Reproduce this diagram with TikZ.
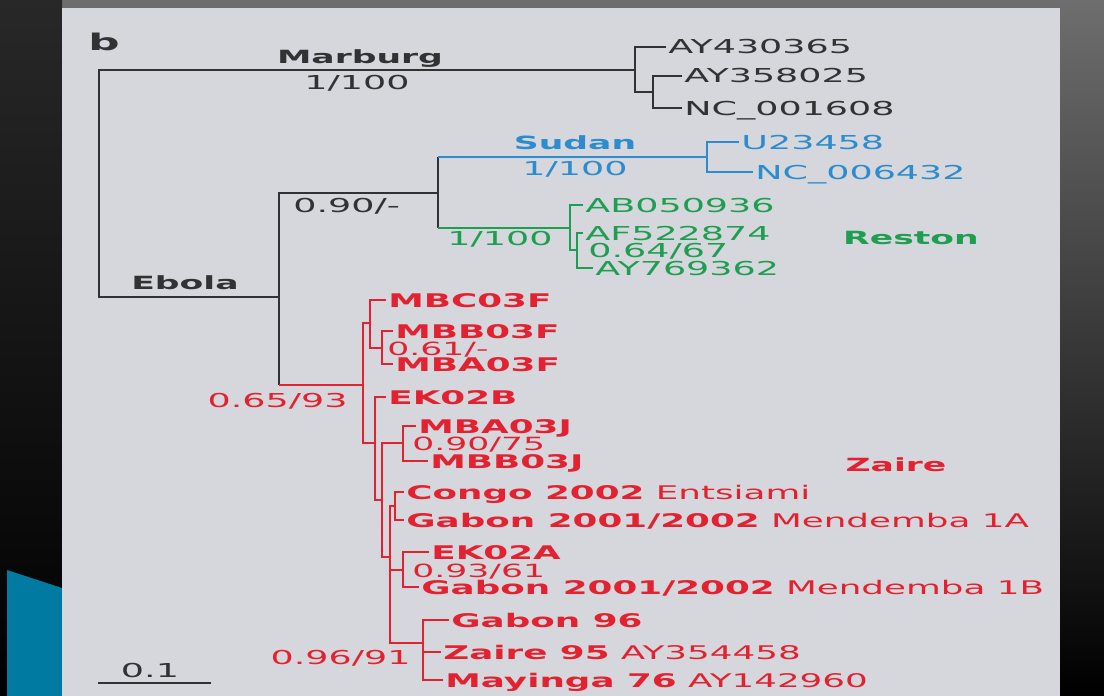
\documentclass[tikz,border=0pt]{standalone}
\usepackage{fontspec}
\usepackage{xcolor}
\newfontfamily\treefont[FakeStretch=1.9]{DejaVu Sans}
\definecolor{panelgrey}{RGB}{214,215,220}
\definecolor{treeblack}{RGB}{50,50,52}
\definecolor{sudanblue}{RGB}{45,140,205}
\definecolor{restongreen}{RGB}{30,158,80}
\definecolor{zairered}{RGB}{226,34,48}
\definecolor{swooshblue}{RGB}{0,122,160}
\usetikzlibrary{positioning, calc}

\begin{document}
\begin{tikzpicture}[
    x=0.5pt, y={(0pt,-0.5pt)},
    leaf/.style={anchor=west, inner xsep=1pt, inner ysep=0pt,
                 text height=7pt, text depth=0pt, text=treeblack,
                 font=\treefont\fontsize{9.6}{11}\selectfont},
    zleaf/.style={leaf, text=zairered, font=\treefont\fontsize{9.4}{11}\selectfont},
    supp/.style={inner sep=0pt, text height=7pt, text depth=0pt,
                 text=treeblack, font=\treefont\fontsize{9.6}{11}\selectfont},
    zsupp/.style={supp, text=zairered, font=\treefont\fontsize{9.1}{10}\selectfont},
    clade/.style={inner sep=0pt, text height=6.6pt, text depth=0pt,
                  text=treeblack, font=\treefont\bfseries\fontsize{9.1}{10}\selectfont},
    blk/.style={draw=treeblack, line width=1.4pt},
    sline/.style={draw=sudanblue, line width=1.4pt},
    rline/.style={draw=restongreen, line width=1.4pt},
    zline/.style={draw=zairered, line width=1.4pt},
  ]
    \useasboundingbox (0,0) rectangle (1104,696);

    % ── Slide background ─────────────────────────
    \shade[top color={rgb,255:red,110;green,110;blue,110}, bottom color=black]
      (0,0) rectangle (1104,696);
    \shade[top color={rgb,255:red,40;green,40;blue,40}, bottom color=black]
      (0,0) rectangle (62,696);
    \fill[swooshblue] (7,570) -- (62,588) -- (62,696) -- (7,696) -- cycle;
    \fill[panelgrey] (62,8) rectangle (1060,696);

    % ── Leaves: Marburg ──────────────────────────
    \node[leaf] (m1) at (666,47) {AY430365};
    \node[leaf] (m2) at (682,76) {AY358025};
    \node[leaf] (m3) at (682,108) {NC\_001608};

    % ── Leaves: Sudan and Reston ─────────────────
    \node[leaf, text=sudanblue] (s1) at (739,142) {U23458};
    \node[leaf, text=sudanblue] (s2) at (753,172) {NC\_006432};
    \node[leaf, text=restongreen] (r1) at (583,205) {AB050936};
    \node[leaf, text=restongreen] (r2) at (583,233) {AF522874};
    \node[leaf, text=restongreen] (r3) at (593,268) {AY769362};

    % ── Leaves: Zaire ────────────────────────────
    \node[zleaf] (z1) at (386,300) {\bfseries MBC03F};
    \node[zleaf] (z2) at (393,331) {\bfseries MBB03F};
    \node[zleaf] (z3) at (393,364) {\bfseries MBA03F};
    \node[zleaf] (z4) at (386,397) {\bfseries EK02B};
    \node[zleaf] (z5) at (416,426) {\bfseries MBA03J};
    \node[zleaf] (z6) at (428,461) {\bfseries MBB03J};
    \node[zleaf] (z7) at (404,492) {{\bfseries Congo 2002} Entsiami};
    \node[zleaf] (z8) at (404,520) {{\bfseries Gabon 2001/2002} Mendemba 1A};
    \node[zleaf] (z9) at (429,552) {\bfseries EK02A};
    \node[zleaf] (z10) at (419,587) {{\bfseries Gabon 2001/2002} Mendemba 1B};
    \node[zleaf] (z11) at (449,620) {\bfseries Gabon 96};
    \node[zleaf] (z12) at (441,652) {{\bfseries Zaire 95} AY354458};
    \node[zleaf] (z13) at (443,680) {{\bfseries Mayinga 76} AY142960};

    % ── Internal nodes ───────────────────────────
    \coordinate (root) at (99,180);
    \coordinate (mar) at (635,70);
    \coordinate (mar2) at (653,92);
    \coordinate (ebo) at (279,297);
    \coordinate (sr) at (438,193);
    \coordinate (sud) at (707,157);
    \coordinate (res) at (570,228);
    \coordinate (res2) at (577,250);
    \coordinate (zai) at (363,385);
    \coordinate (za) at (370,323);
    \coordinate (za2) at (382,348);
    \coordinate (zb) at (375,443);
    \coordinate (zc) at (382,500);
    \coordinate (zj) at (403,443);
    \coordinate (zd) at (390,557);
    \coordinate (zcg) at (395,506);
    \coordinate (zk) at (403,570);
    \coordinate (zg) at (423,643);

    % ── Branches ─────────────────────────────────
    \draw[blk] (mar) -| (root) |- (ebo);
    \draw[blk] (m1.west) -| (mar) |- (mar2);
    \draw[blk] (m2.west) -| (mar2) |- (m3.west);
    \draw[blk] (sr) -| (ebo) -- (ebo |- zai);
    \draw[zline] (ebo |- zai) -- (zai);
    \draw[blk] (sr |- sud) -- (sr |- res);
    \draw[sline] (sr |- sud) -- (sud);
    \draw[rline] (sr |- res) -- (res);
    \draw[sline] (s1.west) -| (sud) |- (s2.west);
    \draw[rline] (r1.west) -| (res) |- (res2);
    \draw[rline] (r2.west) -| (res2) |- (r3.west);

    \draw[zline] (za) -| (zai) |- (zb);
    \draw[zline] (z1.west) -| (za) |- (za2);
    \draw[zline] (z2.west) -| (za2) |- (z3.west);
    \draw[zline] (z4.west) -| (zb) |- (zc);
    \draw[zline] (zj) -| (zc) |- (zd);
    \draw[zline] (z5.west) -| (zj) |- (z6.west);
    \draw[zline] (zcg) -| (zd) |- (zg);
    \draw[zline] (zd |- zk) -- (zk);
    \draw[zline] (z7.west) -| (zcg) |- (z8.west);
    \draw[zline] (z9.west) -| (zk) |- (z10.west);
    \draw[zline] (z11.west) -| (zg) |- (z13.west);
    \draw[zline] (zg |- z12.west) -- (z12.west);

    % ── Clade names and support values ───────────
    \node[clade, text height=8pt, font=\treefont\bfseries\fontsize{11.5}{13}\selectfont] (btag) at (104,42) {b};
    \node[clade] (marlbl) at (360,57) {Marburg};
    \node[supp] (marsup) at (357,82) {1/100};
    \node[clade] (ebolbl) at (185,283) {Ebola};
    \node[supp, anchor=west] (ebosup) at (293,205) {0.90/-};
    \node[clade, text=sudanblue] (sudlbl) at (575,143) {Sudan};
    \node[supp, text=sudanblue] (sudsup) at (575,168) {1/100};
    \node[supp, text=restongreen, anchor=east] (ressup) at (553,238) {1/100};
    \node[supp, text=restongreen, anchor=west] (res2sup) at (588,250) {0.64/67};
    \node[clade, text=restongreen] (reslbl) at (911,238) {Reston};
    \node[supp, text=zairered, anchor=east] (zaisup) at (348,400) {0.65/93};
    \node[zsupp, anchor=west] (za2sup) at (387,348) {0.61/-};
    \node[zsupp, anchor=west] (zjsup) at (412,443) {0.90/75};
    \node[zsupp, anchor=west] (zksup) at (412,570) {0.93/61};
    \node[supp, text=zairered, anchor=east] (zgsup) at (411,657) {0.96/91};
    \node[clade, text=zairered] (zailbl) at (896,465) {Zaire};

    % ── Scale bar ────────────────────────────────
    \coordinate (sb0) at (98,683);
    \coordinate (sb1) at (211,683);
    \draw[blk] (sb0) -- (sb1);
    \node[supp] (sblbl) at (150,670) {0.1};
  \end{tikzpicture}
\end{document}
